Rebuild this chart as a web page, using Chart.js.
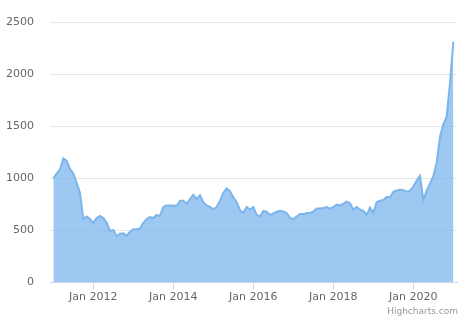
<!DOCTYPE html>
<html>
<head>
<meta charset="utf-8">
<script src="https://cdn.jsdelivr.net/npm/chart.js@4/dist/chart.umd.min.js"></script>
<style>
  html, body { margin: 0; padding: 0; background: #ffffff; }
  #c { display: block; }
</style>
</head>
<body>
<canvas id="c" width="468" height="323"></canvas>
<script>
// Monthly values, Jan 2011 .. Jan 2021 (index 0 = Jan 2011)
const values = [
  1000, 1045, 1085, 1192, 1167, 1090, 1045, 953, 861, 607, 631, 607,
  570, 616, 637, 616, 570, 493, 502, 440, 465, 469, 447, 484,
  508, 508, 515, 570, 607, 625, 616, 646, 637, 723, 738, 738,
  738, 732, 784, 784, 754, 800, 839, 800, 836, 769, 738, 723,
  701, 723, 784, 861, 901, 876, 815, 769, 692, 668, 723, 699,
  723, 646, 631, 686, 677, 646, 662, 677, 686, 680, 665, 616,
  607, 631, 655, 655, 662, 668, 677, 708, 708, 714, 723, 708,
  723, 747, 738, 754, 775, 760, 699, 723, 699, 686, 646, 717,
  668, 769, 784, 790, 821, 815, 870, 882, 889, 885, 870, 880,
  920, 975, 1023, 790, 880, 950, 1020, 1150, 1400, 1519, 1596, 1918,
  2316
];
const tickMonths = [12, 36, 60, 84, 108];
const tickLabels = ['Jan 2012', 'Jan 2014', 'Jan 2016', 'Jan 2018', 'Jan 2020'];
const yTicks = [0, 500, 1000, 1500, 2000, 2500];
const yTickLabels = ['0', '500', '1000', '1500', '2000', '2500'];

const points = values.map((v, i) => ({ x: i, y: v }));

const credits = {
  id: 'credits',
  afterDraw(chart) {
    const ctx = chart.ctx;
    ctx.save();
    ctx.font = '9px "DejaVu Sans"';
    ctx.fillStyle = '#999999';
    ctx.textAlign = 'right';
    ctx.textBaseline = 'alphabetic';
    ctx.fillText('Highcharts.com', 458, 314);
    ctx.restore();
  }
};

new Chart(document.getElementById('c'), {
  type: 'line',
  data: {
    datasets: [{
      data: points,
      borderColor: '#7cb5ec',
      backgroundColor: 'rgba(124,181,236,0.75)',
      borderWidth: 2,
      fill: 'origin',
      tension: 0,
      pointRadius: 0,
      pointHoverRadius: 0
    }]
  },
  options: {
    responsive: false,
    animation: false,
    devicePixelRatio: 1,
    layout: { padding: { top: 9, right: 11, left: 0, bottom: 0 } },
    plugins: { legend: { display: false }, tooltip: { enabled: false } },
    scales: {
      x: {
        type: 'linear',
        min: -1,
        max: 121.1,
        afterBuildTicks: (s) => { s.ticks = tickMonths.map(v => ({ value: v })); },
        afterFit: (s) => { s.height = 41; },
        ticks: {
          autoSkip: false,
          maxRotation: 0,
          padding: 1,
          color: '#666666',
          font: { family: '"DejaVu Sans"', size: 11 },
          callback: (v) => { const k = tickMonths.indexOf(v); return k >= 0 ? tickLabels[k] : ''; }
        },
        grid: { display: true, drawOnChartArea: false, drawTicks: true, tickLength: 8, color: '#ccd6eb', lineWidth: 1 },
        border: { display: true, color: '#ccd6eb', width: 1 }
      },
      y: {
        min: 0,
        max: 2500,
        afterBuildTicks: (s) => { s.ticks = yTicks.map(v => ({ value: v })); },
        afterFit: (s) => { s.width = 50; },
        ticks: {
          padding: 16,
          color: '#666666',
          font: { family: '"DejaVu Sans"', size: 11 },
          callback: (v) => { const k = yTicks.indexOf(v); return k >= 0 ? yTickLabels[k] : ''; }
        },
        grid: { color: '#e6e6e6', lineWidth: 1, drawTicks: false },
        border: { display: false }
      }
    }
  },
  plugins: [credits]
});
</script>
</body>
</html>
